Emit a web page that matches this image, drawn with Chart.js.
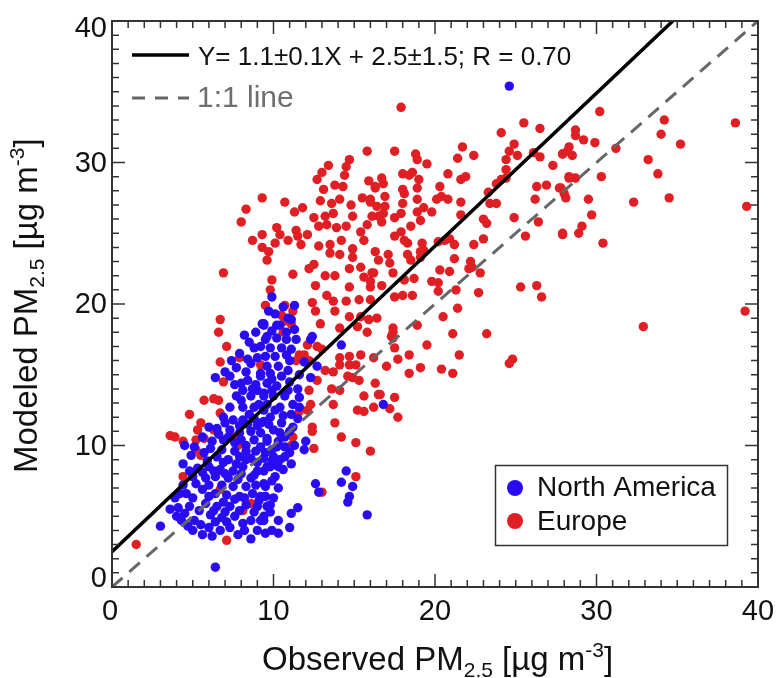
<!DOCTYPE html>
<html>
<head>
<meta charset="utf-8">
<script src="https://cdn.jsdelivr.net/npm/chart.js@4/dist/chart.umd.min.js"></script>
<style>
  html, body { margin: 0; padding: 0; background: #fff; }
  #wrap { width: 777px; height: 678px; }
</style>
</head>
<body>
<div id="wrap"><canvas id="scatterPM" width="777" height="678"></canvas></div>
<script>
// axis ticks
const tickLabels = ["0", "10", "20", "30", "40"];
const tickValues = [0, 10, 20, 30, 40];

// fitted line and 1:1 line (end points, data units)
const fitLine = [[0, 2.5], [40, 45.7]];
const oneToOne = [[0, 0], [40, 40]];

// Europe: [observed, modeled]
const europePoints = [
  [15.8,30.8],[14.7,30.2],[13.4,29.8],[14.5,29.7],[13.0,29.3],[12.7,28.8],[14.4,29.1],[13.8,28.4],[15.9,28.7],[16.3,28.2],
  [13.1,28.1],[14.3,28.3],[9.3,27.5],[10.7,27.2],[8.3,26.7],[8.0,25.8],[11.3,26.5],[11.8,26.8],[12.9,27.3],[13.6,27.1],
  [14.1,27.4],[14.8,27.0],[15.5,27.5],[16.0,27.2],[12.5,26.1],[13.2,26.2],[13.7,26.4],[14.9,26.2],[16.1,26.2],[9.3,24.9],
  [8.7,24.5],[10.2,25.4],[10.4,24.9],[11.4,25.2],[11.5,24.8],[12.1,24.9],[12.8,25.5],[13.3,25.6],[13.9,25.4],[14.5,25.5],
  [10.9,24.5],[11.7,24.2],[9.3,24.0],[9.7,23.7],[10.1,24.3],[9.6,23.1],[12.8,24.1],[13.5,24.2],[14.2,24.5],[14.9,23.9],
  [15.6,24.5],[15.4,25.1],[15.8,25.6],[13.5,23.6],[14.1,23.5],[14.9,23.3],[6.9,22.2],[11.2,22.1],[12.2,22.5],[12.5,22.8],
  [13.2,22.0],[13.8,22.0],[12.6,21.3],[14.7,22.5],[15.4,22.6],[15.6,21.9],[16.1,22.2],[14.7,21.2],[16.0,21.2],[9.9,21.7],
  [9.8,21.0],[13.3,20.6],[13.7,20.2],[14.5,20.2],[15.3,20.3],[12.4,20.1],[12.6,19.5],[13.8,19.5],[14.7,19.1],[15.4,19.1],
  [15.9,18.9],[10.7,19.9],[11.2,19.5],[9.5,19.9],[6.7,18.9],[6.6,18.0],[10.5,19.2],[10.7,18.8],[11.1,18.6],[12.9,18.6],
  [14.1,18.3],[15.2,18.4],[15.8,18.0],
  [17.9,33.9],[25.5,32.8],[24.1,32.1],[26.5,32.4],[24.9,31.3],[24.6,30.8],[25.1,30.5],[26.1,30.7],[26.5,30.4],[27.9,30.6],
  [28.2,30.8],[24.4,30.2],[24.4,29.5],[27.3,29.8],[21.7,31.1],[21.4,30.3],[22.4,30.5],[17.5,30.8],[18.8,30.6],[18.9,30.2],
  [19.5,29.9],[18.0,29.2],[18.4,29.1],[18.6,29.3],[19.0,28.8],[16.7,28.9],[16.3,28.3],[16.8,28.5],[20.8,29.2],[21.6,28.8],
  [21.9,29.0],[28.3,29.0],[18.0,28.1],[18.1,27.8],[18.9,28.2],[20.3,28.3],[16.9,27.6],[16.4,26.9],[16.0,27.4],[20.1,27.4],
  [20.4,27.6],[20.8,27.4],[18.9,27.4],[19.3,26.8],[18.9,26.5],[19.8,26.5],[18.0,27.1],[17.9,26.4],[16.9,26.9],[16.8,26.4],
  [16.5,26.2],[16.7,25.8],[17.5,26.1],[19.1,25.9],[21.6,27.2],[21.6,26.3],[23.3,27.9],[23.8,28.5],[24.1,28.8],[24.4,28.9],
  [23.4,27.1],[23.8,27.1],[26.3,28.3],[26.9,28.4],[27.7,28.2],[28.0,27.8],[26.2,27.4],[23.0,26.0],[23.2,25.7],[24.9,26.1],
  [26.4,25.8],[18.5,25.5],[17.5,24.8],[18.1,24.5],[18.3,24.3],[19.2,24.3],[19.3,23.8],[19.1,23.7],[17.9,25.1],[20.2,24.4],
  [20.6,24.5],[20.9,24.6],[21.2,24.2],[22.4,24.2],[23.0,24.6],[25.6,24.8],[27.9,25.0],[16.3,23.7],[17.1,23.5],[17.2,22.9],
  [16.5,23.1],[18.3,23.5],[18.5,23.1],[19.1,23.3],[21.2,23.2],[20.3,22.4],[20.9,22.3],[22.2,23.0],[22.3,22.6],[22.1,22.5],
  [22.8,22.2],[16.2,22.2],[17.4,22.2],[16.0,21.6],[18.7,21.8],[18.1,21.7],[19.8,21.6],[20.2,21.5],[20.2,20.9],[21.3,21.0],
  [16.7,21.3],[17.5,20.5],[18.0,20.6],[18.6,20.6],[22.7,20.8],[25.3,21.2],[26.3,21.3],[26.6,20.5],[21.4,19.7],[20.5,19.1],
  [18.9,18.5],[17.4,18.3],[16.4,19.0],[16.0,20.3],[21.1,17.9],[23.2,17.9],
  [30.2,33.6],[34.2,33.0],[38.6,32.8],[34.0,32.0],[35.2,31.3],[28.7,32.3],[28.7,31.9],[29.2,31.6],[29.9,31.4],[28.3,31.1],
  [27.9,30.6],[28.5,30.5],[31.2,31.0],[33.2,30.2],[33.8,29.2],[28.3,28.9],[28.7,28.9],[30.3,29.0],[27.8,28.2],[28.1,27.5],
  [29.5,27.4],[32.3,27.2],[34.5,27.5],[39.3,26.9],[29.7,26.3],[29.1,25.5],[28.9,25.0],[27.9,24.9],[30.4,24.3],[39.2,19.5],
  [32.9,18.4],
  [17.4,18.0],[17.4,17.6],[17.3,17.7],[17.5,16.9],[19.5,17.1],[21.5,16.4],[18.4,16.4],[17.7,16.1],[17.0,15.6],[19.1,15.5],
  [20.4,15.4],[21.1,15.1],[18.4,15.1],[24.6,15.8],[24.8,16.1],[16.6,13.6],[17.5,13.4],[17.2,12.6],[17.7,12.0],
  [12.1,17.1],[12.7,17.0],[13.0,16.8],[11.9,16.4],[12.2,16.0],[14.1,16.2],[14.7,16.3],[15.4,16.4],[16.2,16.2],[13.2,15.3],
  [13.7,15.2],[13.6,14.0],[14.1,15.7],[14.7,15.7],[15.1,15.7],[14.6,14.9],[14.9,14.8],[15.3,14.6],[12.2,13.9],[12.7,14.6],
  [13.7,12.9],[14.1,13.9],[15.6,13.5],[16.3,14.4],[16.5,13.6],[15.2,12.5],[15.6,12.4],[16.2,12.7],[11.6,12.4],[12.1,12.5],
  [12.3,12.9],[12.4,11.3],[12.4,11.0],[12.5,9.8],[13.8,11.6],[14.2,10.6],[15.1,10.2],[16.0,9.6],[11.1,10.0],[11.2,10.6],
  [15.1,7.8],[13.0,6.7],[10.6,18.0],[11.4,16.0],[11.6,16.4],
  [7.1,17.0],[6.7,15.9],[6.9,14.5],[7.9,16.2],[5.7,13.2],[6.3,13.3],[6.6,13.2],[4.8,12.2],[6.7,12.3],[3.6,10.7],
  [3.9,10.6],[5.5,11.6],[5.3,11.1],[5.2,10.4],[5.7,10.5],[6.3,11.1],[4.4,10.3],[5.2,9.7],[5.5,9.3],[4.4,7.8],
  [6.6,8.2],[7.1,3.3],[7.8,10.0],[7.6,10.6],[6.7,6.9],[8.1,5.4],[8.6,5.9],[9.2,15.7],[1.5,3.0]
];

// North America: [observed, modeled]
const northAmericaPoints = [
  [9.9,20.5],[11.3,19.9],[10.1,19.3],[11.1,18.9],[9.3,18.6],[10.2,18.5],[11.3,18.2],[12.4,17.7],[24.6,35.4],[16.8,12.9],
  [12.3,17.5],[14.2,17.1],[12.7,15.6],[12.3,14.8],[11.6,13.4],[12.0,10.3],[11.9,9.7],[14.5,8.2],[14.2,7.4],[14.9,7.1],
  [12.6,7.3],[12.8,6.7],[14.7,6.4],[14.6,6.0],[15.8,5.1],[11.5,5.6],[11.1,5.2],[11.0,4.2],[10.3,4.7],[9.8,5.3],
  [9.9,4.0],[10.3,3.8],[9.4,4.7],
  [9.4,18.5],[10.4,18.5],[9.6,17.7],[10.2,17.6],[10.8,17.5],[11.4,17.5],[9.2,17.0],[9.8,16.9],[10.5,16.9],[11.1,16.8],
  [9.5,16.3],[10.1,16.3],[11.0,16.0],[9.6,15.6],[10.3,15.6],[9.2,14.9],[9.8,15.1],[10.5,14.9],[11.0,14.5],[9.6,14.4],
  [10.2,14.2],[9.4,13.7],[10.0,13.5],[10.7,13.5],[11.2,12.9],[9.6,12.9],[10.4,12.7],[11.1,12.2],[9.8,12.0],[9.2,11.6],
  [10.5,11.6],[11.2,11.3],[10.0,11.1],[10.7,10.6],[9.6,10.5],[10.2,9.9],[11.0,9.5],[9.5,9.5],[10.4,9.0],[11.1,8.7],
  [9.8,8.5],[9.4,8.2],[10.6,8.3],[10.1,7.8],[9.5,7.1],[9.2,6.4],[9.6,5.7],[9.2,4.7],
  [9.4,18.6],[9.5,17.5],[8.8,16.9],[7.9,16.5],[7.7,15.5],[8.4,14.6],[9.2,15.1],[6.4,14.8],[8.1,13.9],[8.6,13.5],
  [9.0,13.9],[9.4,13.5],[7.7,13.5],[7.3,12.7],[8.1,12.7],[8.8,12.7],[9.4,12.5],[6.9,12.0],[7.5,11.8],[8.1,11.8],
  [8.8,11.9],[9.4,11.7],[6.0,11.3],[6.5,11.2],[7.3,11.1],[7.9,10.9],[8.6,11.0],[9.2,10.9],[5.6,10.6],[6.2,10.3],
  [6.9,10.4],[7.6,10.2],[8.3,10.0],[9.2,9.9],[9.6,10.3],[4.5,10.0],[5.1,9.9],[5.7,9.5],[6.5,9.2],[7.2,9.0],
  [7.9,9.2],[8.6,9.1],[9.4,9.1],[4.4,8.7],[5.3,8.4],[6.0,8.5],[6.7,8.3],[7.5,8.2],[8.1,8.5],[9.0,8.2],
  [9.6,8.5],[5.0,7.8],[5.8,7.7],[6.4,7.8],[7.2,7.7],[7.8,7.6],[8.6,7.7],[9.4,7.3],[3.9,6.3],[4.6,6.6],
  [5.6,6.9],[6.4,6.6],[7.1,6.5],[7.9,6.4],[8.7,6.6],[9.5,6.4],[4.1,5.6],[4.8,5.7],[5.8,5.9],[6.5,5.7],
  [7.3,5.7],[8.3,5.8],[9.0,5.7],[4.3,4.7],[5.1,4.7],[6.1,5.1],[6.8,4.9],[7.6,5.0],[8.6,4.7],[9.4,5.0],
  [5.0,4.0],[6.0,4.2],[6.7,4.0],[7.3,4.2],[7.8,3.7],[8.6,3.4],[9.0,4.0],[3.0,4.3],[6.4,1.4],[7.3,14.9],
  [8.6,15.8],[8.9,14.3],[8.3,15.2],[9.0,16.2],[8.5,17.3],[9.9,18.1],[10.8,18.0],[10.9,15.3],[11.5,14.0],[10.6,12.1],
  [11.5,11.9],[10.3,10.3],[11.3,10.0],[8.0,14.4],
  [8.2,17.8],[8.9,18.0],[9.7,19.5],[10.6,19.8],[10.9,19.0],[8.4,16.1],[7.4,16.0],[7.0,15.2],[7.6,14.3],[8.7,14.0],
  [9.9,14.7],[10.8,16.4],[11.6,15.0],[11.9,15.9],[8.0,13.2],[8.5,12.2],[9.1,12.9],[10.1,12.5],[9.9,13.9],[10.9,13.9],
  [11.6,12.7],[7.0,11.6],[7.9,11.4],[8.4,11.5],[9.0,11.4],[9.7,11.5],[10.4,10.9],[11.0,11.0],[6.6,10.8],[7.2,10.6],
  [8.0,10.4],[8.8,10.4],[9.9,9.7],[10.7,9.9],[6.1,9.8],[6.8,9.7],[7.6,9.6],[8.3,9.6],[8.9,9.6],[10.0,9.2],
  [10.7,9.2],[4.9,9.3],[5.9,8.9],[6.9,8.8],[7.7,8.7],[8.3,9.0],[9.0,8.8],[9.9,8.9],[10.3,8.5],[4.8,8.2],
  [5.6,8.1],[6.3,8.2],[7.0,8.0],[8.0,8.0],[8.8,7.9],[9.9,7.5],[4.4,7.2],[5.2,7.3],[6.0,7.2],[6.8,7.2],
  [7.5,7.1],[8.3,7.1],[8.9,7.2],[10.3,7.0],[4.2,6.6],[5.0,6.3],[6.0,6.4],[6.9,6.0],[7.6,6.2],[8.2,6.3],
  [9.1,6.1],[10.0,6.3],[4.5,5.2],[5.4,5.4],[6.3,5.4],[7.0,5.3],[7.9,5.4],[8.8,5.3],[9.8,5.8],[4.7,4.3],
  [5.5,4.4],[6.4,4.6],[7.1,4.6],[8.1,4.5],[8.2,4.0],[9.5,3.8],[4.0,5.0],[3.6,5.5],[5.6,3.7],[6.2,3.6]
];

const toXY = (arr) => arr.map(([x, y]) => ({ x: x, y: y }));

const FONT = "'Liberation Sans', Arial, sans-serif";
const RED = "#e01f24";
const BLUE = "#2a0cf2";

// draws text made of pieces (for subscripts/superscripts)
function drawPieces(ctx, pieces, x, y) {
  let cx = x;
  pieces.forEach((p) => {
    ctx.font = p.size + "px " + FONT;
    ctx.fillText(p.text, cx, y + (p.dy || 0));
    cx += ctx.measureText(p.text).width;
  });
}

function axisTitle(name) {
  return [
    { text: name + " PM", size: 33 },
    { text: "2.5", size: 21, dy: 7 },
    { text: " [\u00b5g m", size: 33 },
    { text: "-3", size: 21, dy: -13 },
    { text: "]", size: 33 }
  ];
}

const framePlugin = {
  id: "framePlugin",
  afterDraw(chart) {
    const ctx = chart.ctx;
    const a = chart.chartArea;
    const xs = chart.scales.x;
    const ys = chart.scales.y;
    ctx.save();

    // frame
    ctx.strokeStyle = "#333";
    ctx.lineWidth = 2;
    ctx.strokeRect(a.left, a.top, a.right - a.left, a.bottom - a.top);

    // inward ticks on all four sides
    ctx.lineWidth = 1.5;
    ctx.beginPath();
    for (let v = 0; v <= 40; v++) {
      const len = v % 10 === 0 ? 13 : 7;
      const px = xs.getPixelForValue(v);
      const py = ys.getPixelForValue(v);
      ctx.moveTo(px, a.bottom); ctx.lineTo(px, a.bottom - len);
      ctx.moveTo(px, a.top); ctx.lineTo(px, a.top + len);
      ctx.moveTo(a.left, py); ctx.lineTo(a.left + len, py);
      ctx.moveTo(a.right, py); ctx.lineTo(a.right - len, py);
    }
    ctx.stroke();

    // tick labels
    ctx.fillStyle = "#111";
    ctx.font = "29px " + FONT;
    ctx.textAlign = "right";
    ctx.textBaseline = "alphabetic";
    tickValues.forEach((v, i) => {
      const py = ys.getPixelForValue(v);
      const base = Math.min(Math.max(py + 9, a.top + 16), a.bottom);
      ctx.fillText(tickLabels[i], a.left - 5, base);
    });
    ctx.textAlign = "center";
    tickValues.forEach((v, i) => {
      const px = xs.getPixelForValue(v);
      ctx.fillText(tickLabels[i], px - (i === 0 ? 2 : 0), a.bottom + 33);
    });

    // axis titles
    ctx.textAlign = "left";
    drawPieces(ctx, axisTitle("Observed"), 262, a.bottom + 83);
    ctx.save();
    ctx.translate(37, 473);
    ctx.rotate(-Math.PI / 2);
    drawPieces(ctx, axisTitle("Modeled"), 0, 0);
    ctx.restore();

    // line legend (top left)
    ctx.strokeStyle = "#000";
    ctx.lineWidth = 3.5;
    ctx.beginPath(); ctx.moveTo(132, 55); ctx.lineTo(189, 55); ctx.stroke();
    ctx.font = "26px " + FONT;
    ctx.fillStyle = "#111";
    ctx.fillText("Y= 1.1\u00b10.1X + 2.5\u00b11.5; R = 0.70", 198, 65);
    ctx.strokeStyle = "#666";
    ctx.lineWidth = 3;
    ctx.setLineDash([13, 10]);
    ctx.beginPath(); ctx.moveTo(132, 98); ctx.lineTo(189, 98); ctx.stroke();
    ctx.setLineDash([]);
    ctx.font = "30px " + FONT;
    ctx.fillStyle = "#6e6e6e";
    ctx.fillText("1:1 line", 197, 107);

    // region legend (bottom right)
    ctx.strokeStyle = "#333";
    ctx.lineWidth = 1.5;
    ctx.strokeRect(495.5, 465.5, 232, 80);
    ctx.fillStyle = BLUE;
    ctx.beginPath(); ctx.arc(515, 488, 8, 0, Math.PI * 2); ctx.fill();
    ctx.fillStyle = RED;
    ctx.beginPath(); ctx.arc(515, 521, 8, 0, Math.PI * 2); ctx.fill();
    ctx.fillStyle = "#111";
    ctx.font = "28px " + FONT;
    ctx.fillText("North America", 537, 496);
    ctx.fillText("Europe", 537, 530);

    ctx.restore();
  }
};

new Chart(document.getElementById("scatterPM"), {
  type: "scatter",
  data: {
    datasets: [
      {
        label: "fit",
        data: toXY(fitLine),
        showLine: true,
        borderColor: "#000",
        borderWidth: 3.5,
        pointRadius: 0,
        order: 0
      },
      {
        label: "1:1 line",
        data: toXY(oneToOne),
        showLine: true,
        borderColor: "#666",
        borderWidth: 3,
        borderDash: [14, 9],
        pointRadius: 0,
        order: 1
      },
      {
        label: "North America",
        data: toXY(northAmericaPoints),
        backgroundColor: BLUE,
        borderWidth: 0,
        pointRadius: 4.7,
        order: 2
      },
      {
        label: "Europe",
        data: toXY(europePoints),
        backgroundColor: RED,
        borderWidth: 0,
        pointRadius: 4.7,
        order: 3
      }
    ]
  },
  options: {
    responsive: false,
    animation: false,
    devicePixelRatio: 1,
    layout: { padding: { left: 112, top: 21, right: 19, bottom: 91 } },
    plugins: { legend: { display: false }, tooltip: { enabled: false } },
    scales: {
      x: { type: "linear", min: 0, max: 40, display: false },
      y: { type: "linear", min: 0, max: 40, display: false }
    }
  },
  plugins: [framePlugin]
});
</script>
</body>
</html>
